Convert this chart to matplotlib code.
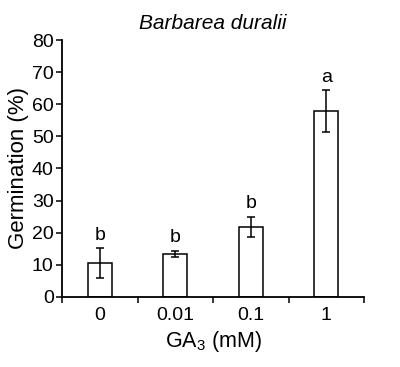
import matplotlib
matplotlib.use("Agg")
import matplotlib.pyplot as plt

plt.rcParams['font.family'] = ['Liberation Sans', 'DejaVu Sans']
plt.rcParams['mathtext.default'] = 'regular'

# data
doses = ['0', '0.01', '0.1', '1']
germination = [10.6, 13.4, 21.9, 57.8]
sem = [4.7, 1.0, 3.1, 6.5]
letters = ['b', 'b', 'b', 'a']

fig = plt.figure(figsize=(4.0, 3.67), dpi=100)
ax = fig.add_axes([0.155, 0.191, 0.755, 0.700])

pos = list(range(len(doses)))
ax.bar(pos, germination, width=0.32, color='white', edgecolor='black', linewidth=1.1,
       yerr=sem, error_kw=dict(ecolor='black', elinewidth=1.1, capsize=3, capthick=1.1))

for p, g, e, l in zip(pos, germination, sem, letters):
    ax.text(p, g + e + 1.3, l, ha='center', va='bottom', fontsize=14)

ax.set_xlim(-0.5, 3.5)
ax.set_ylim(0, 80)
ax.set_yticks(range(0, 81, 10))
ax.set_xticks([-0.5, 0.5, 1.5, 2.5, 3.5])
ax.set_xticklabels([])
ax.set_xticks(pos, minor=True)
ax.set_xticklabels(doses, minor=True)
ax.tick_params(axis='x', which='minor', length=0, pad=7, labelsize=14)
ax.tick_params(axis='x', which='major', length=4, width=1.1, direction='out')
ax.tick_params(axis='y', length=4, width=1.1, direction='out', labelsize=14, pad=2)

for s in ['top', 'right']:
    ax.spines[s].set_visible(False)
for s in ['left', 'bottom']:
    ax.spines[s].set_linewidth(1.3)

ax.set_ylabel('Germination (%)', fontsize=16, labelpad=2)
ax.set_xlabel('GA$_3$ (mM)', fontsize=15.5, labelpad=4)
ax.set_title('Barbarea duralii', fontsize=15, style='italic', pad=8)

fig.savefig('out.png', dpi=100)
